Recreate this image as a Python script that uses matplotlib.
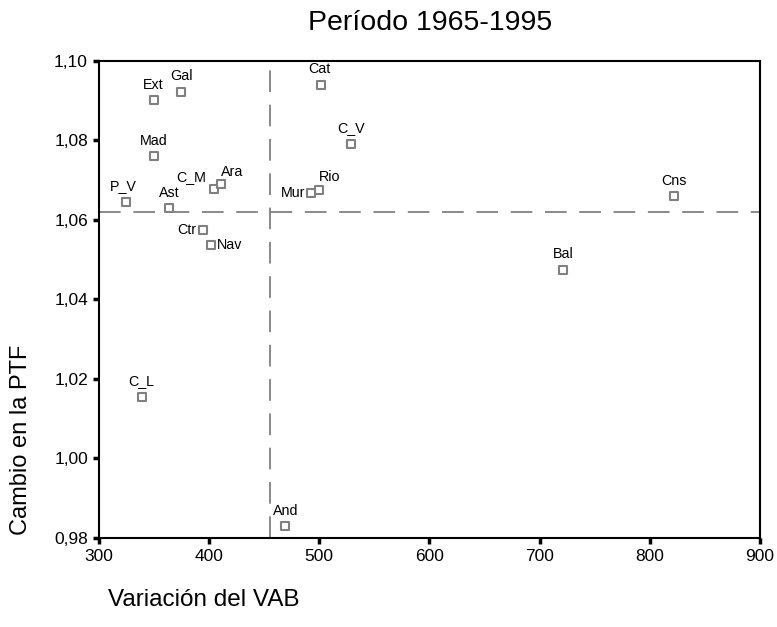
import matplotlib
matplotlib.use("Agg")
import matplotlib.pyplot as plt

plt.rcParams['font.family'] = ['Liberation Sans', 'DejaVu Sans']

regions = ["Ext", "Gal", "Mad", "P_V", "Ast", "C_M", "Ara", "Ctr", "Nav",
           "Cat", "C_V", "Rio", "Mur", "Cns", "Bal", "C_L", "And"]
vab = [349.6, 374.7, 349.6, 324.5, 363.5, 404.4, 411.0, 394.7, 401.9,
       501.5, 528.5, 499.4, 492.1, 821.9, 721.2, 338.7, 469.1]
ptf = [1.090, 1.0922, 1.076, 1.0646, 1.0629, 1.0677, 1.0689, 1.0575, 1.0536,
       1.094, 1.0791, 1.0676, 1.0668, 1.066, 1.0475, 1.0155, 0.983]
# label placement: (dx points, dy points, ha, va)
placement = {
    "Ext": (0, 6, 'center', 'bottom'), "Gal": (0, 6, 'center', 'bottom'),
    "Mad": (0, 6, 'center', 'bottom'), "P_V": (-2, 6, 'center', 'bottom'),
    "Ast": (0, 6, 'center', 'bottom'), "C_M": (-6, 4, 'right', 'bottom'),
    "Ara": (0, 4, 'left', 'bottom'), "Ctr": (-5, 0, 'right', 'center'),
    "Nav": (4, 0, 'left', 'center'), "Cat": (-1, 6, 'center', 'bottom'),
    "C_V": (0, 6, 'center', 'bottom'), "Rio": (0, 4, 'left', 'bottom'),
    "Mur": (-4, 0, 'right', 'center'), "Cns": (0, 6, 'center', 'bottom'),
    "Bal": (0, 6, 'center', 'bottom'), "C_L": (0, 6, 'center', 'bottom'),
    "And": (0, 6, 'center', 'bottom'),
}
ref_x = 455.0
ref_y = 1.0619
xticks = [300, 400, 500, 600, 700, 800, 900]
yticks = [0.98, 1.00, 1.02, 1.04, 1.06, 1.08, 1.10]

fig = plt.figure(figsize=(7.77, 6.27), dpi=100)
ax = fig.add_axes([0.1274, 0.1419, 0.978 - 0.1274, 0.9032 - 0.1419])

ax.axvline(ref_x, color='#808080', lw=1.3, dashes=(12, 7), zorder=1)
ax.axhline(ref_y, color='#808080', lw=1.3, dashes=(12, 7), zorder=1)

ax.scatter(vab, ptf, marker='s', s=40, facecolors='white',
           edgecolors='#808080', linewidths=1.5, zorder=3)
for r, x, y in zip(regions, vab, ptf):
    dx, dy, ha, va = placement[r]
    ax.annotate(r, (x, y), xytext=(dx, dy), textcoords='offset points',
                ha=ha, va=va, fontsize=10.3, color='black', zorder=4)

ax.set_xlim(300, 900)
ax.set_ylim(0.98, 1.10)
ax.set_xticks(xticks)
ax.set_xticklabels([str(t) for t in xticks])
ax.set_yticks(yticks)
ax.set_yticklabels([f"{t:.2f}".replace('.', ',') for t in yticks])
ax.tick_params(direction='out', length=4, width=2.5, labelsize=12.5, pad=4)
for s in ax.spines.values():
    s.set_linewidth(1.5)

fig.text(0.554, 0.963, "Período 1965-1995", ha='center', va='center', fontsize=20.5)
fig.text(0.139, 0.043, "Variación del VAB", ha='left', va='center', fontsize=17.5)
fig.text(0.027, 0.298, "Cambio en la PTF", ha='center', va='center',
         rotation=90, fontsize=17)

fig.savefig("out.png", dpi=100)
